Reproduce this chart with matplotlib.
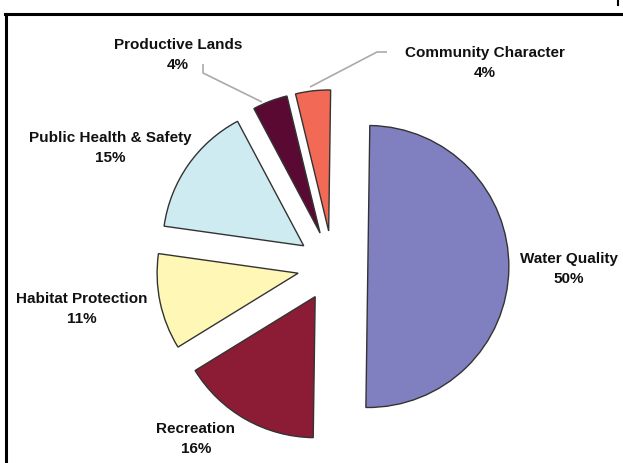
import matplotlib
matplotlib.use("Agg")
import matplotlib.pyplot as plt
from matplotlib.lines import Line2D

# ---- data ----
categories = ["Water Quality", "Recreation", "Habitat Protection",
              "Public Health & Safety", "Productive Lands", "Community Character"]
values = [50, 16, 11, 15, 4, 4]
colors = ["#8080C0", "#8C1C35", "#FFF7B5", "#CDEBF0", "#5A0A32", "#F26A55"]

W, H = 623, 463
R = 141.0                 # pie radius in pixels
CX, CY = 332.6, 266.0     # pie centre in pixels (y from top)

# label centre positions (pixels, y from top)
label_pos = [(569, 269), (196, 439), (82, 309), (110, 148), (178, 55), (485, 63)]

fig = plt.figure(figsize=(W / 100, H / 100), dpi=100)
ax = fig.add_axes([0, 0, 1, 1])

def to_data(px, py):
    return (px - CX) / R, (CY - py) / R

ax.pie(values, colors=colors, startangle=89.2, counterclock=False,
       explode=[0.25] * len(values), radius=1.0, center=(0, 0),
       wedgeprops=dict(edgecolor="#333333", linewidth=1.0))
ax.set_aspect("auto")
ax.set_xlim(-CX / R, (W - CX) / R)
ax.set_ylim(-(H - CY) / R, CY / R)
ax.axis("off")

for cat, val, (px, py) in zip(categories, values, label_pos):
    x, y = to_data(px, py)
    ax.text(x, y, f"{cat}\n{val}%", ha="center", va="center",
            fontsize=11, fontweight="bold", family="Liberation Sans",
            color="#111111", linespacing=1.5)

# leader lines
leaders = [
    [(203, 64), (203, 73), (262, 102)],
    [(387, 52), (377, 52), (310, 87)],
]
for pts in leaders:
    xs, ys = zip(*[to_data(px, py) for px, py in pts])
    ax.plot(xs, ys, color="#AAAAAA", linewidth=1.2, solid_capstyle="butt")

# frame lines (top and left)
fig.add_artist(Line2D([5 / W, 1.0], [1 - 13.5 / H, 1 - 13.5 / H],
                      color="black", linewidth=2.2, transform=fig.transFigure))
fig.add_artist(Line2D([5.5 / W, 5.5 / W], [0, 1 - 13.5 / H],
                      color="black", linewidth=2.2, transform=fig.transFigure))
fig.add_artist(Line2D([617.5 / W, 617.5 / W], [1 - 5 / H, 1.0],
                      color="black", linewidth=1.5, transform=fig.transFigure))

fig.savefig("out.png", dpi=100)
